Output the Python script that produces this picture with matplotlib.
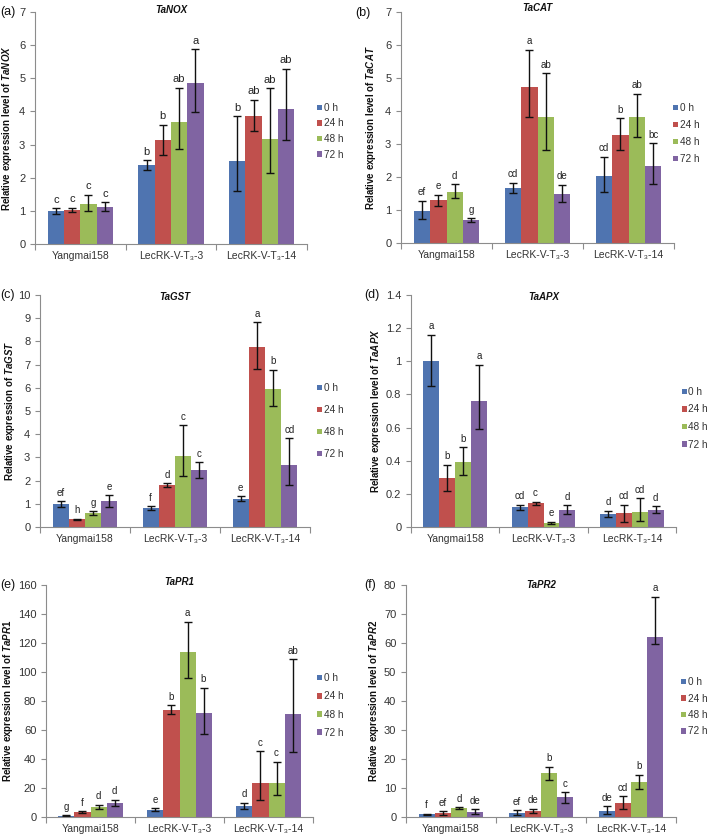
import matplotlib
matplotlib.use("Agg")
import matplotlib.pyplot as plt
from matplotlib.patches import Patch
import numpy as np

plt.rcParams['font.family'] = ['Liberation Sans', 'DejaVu Sans']
plt.rcParams['mathtext.fontset'] = 'custom'
plt.rcParams['mathtext.it'] = 'Liberation Sans:italic:bold'
plt.rcParams['mathtext.rm'] = 'Liberation Sans:bold'

# ---------------- data ----------------
times = ["0 h", "24 h", "48 h", "72 h"]
lines_std = ["Yangmai158", "LecRK-V-T\u2083-3", "LecRK-V-T\u2083-14"]
lines_apx = ["Yangmai158", "LecRK-V-T\u2083-3", "LecRK-T\u2083-14"]
colors = ["#4F74B0", "#C0504D", "#9BBB59", "#8064A2"]

# rows: lines (Yangmai158, T3-3, T3-14); columns: time points (0, 24, 48, 72 h)
nox_vals = [[1.00, 1.03, 1.22, 1.13], [2.37, 3.13, 3.68, 4.85], [2.50, 3.85, 3.17, 4.07]]
nox_up = [[0.08, 0.07, 0.27, 0.13], [0.16, 0.47, 1.04, 1.03], [1.35, 0.50, 1.53, 1.22]]
nox_dn = [[0.08, 0.07, 0.22, 0.13], [0.15, 0.44, 0.81, 0.87], [0.91, 0.44, 1.02, 0.94]]
nox_let = [["c", "c", "c", "c"], ["b", "b", "ab", "a"], ["b", "ab", "ab", "ab"]]

cat_vals = [[0.98, 1.29, 1.56, 0.70], [1.66, 4.73, 3.81, 1.47], [2.03, 3.28, 3.81, 2.34]]
cat_up = [[0.30, 0.17, 0.22, 0.05], [0.17, 1.13, 1.33, 0.29], [0.59, 0.50, 0.72, 0.68]]
cat_dn = [[0.24, 0.16, 0.21, 0.05], [0.15, 0.90, 0.99, 0.24], [0.47, 0.46, 0.61, 0.55]]
cat_let = [["ef", "e", "d", "g"], ["cd", "a", "ab", "de"], ["cd", "b", "ab", "bc"]]

gst_vals = [[1.00, 0.34, 0.60, 1.13], [0.80, 1.81, 3.08, 2.44], [1.21, 7.77, 5.96, 2.67]]
gst_up = [[0.12, 0.02, 0.09, 0.23], [0.10, 0.07, 1.30, 0.36], [0.11, 1.05, 0.81, 1.15]]
gst_dn = [[0.12, 0.02, 0.09, 0.25], [0.08, 0.07, 0.90, 0.33], [0.10, 0.96, 0.74, 0.86]]
gst_let = [["ef", "h", "g", "e"], ["f", "d", "c", "c"], ["e", "a", "b", "cd"]]

apx_vals = [[1.00, 0.295, 0.39, 0.76], [0.12, 0.143, 0.024, 0.105], [0.078, 0.084, 0.09, 0.104]]
apx_up = [[0.16, 0.08, 0.09, 0.22], [0.015, 0.01, 0.007, 0.026], [0.02, 0.051, 0.085, 0.02]]
apx_dn = [[0.15, 0.075, 0.075, 0.17], [0.015, 0.01, 0.007, 0.026], [0.02, 0.056, 0.056, 0.02]]
apx_let = [["a", "b", "b", "a"], ["cd", "c", "e", "d"], ["d", "cd", "cd", "d"]]

pr1_vals = [[0.9, 3.5, 6.9, 9.7], [5.1, 73.7, 113.5, 71.8], [7.6, 23.7, 23.7, 70.7]]
pr1_up = [[0.3, 0.5, 1.5, 2.3], [0.8, 3.2, 21.2, 17.5], [2.3, 21.6, 14.5, 38.2]]
pr1_dn = [[0.3, 0.5, 1.5, 2.3], [0.8, 3.0, 17.5, 14.5], [1.8, 11.7, 8.7, 25.8]]
pr1_let = [["g", "f", "d", "d"], ["e", "b", "a", "b"], ["d", "c", "c", "ab"]]

pr2_vals = [[0.92, 1.4, 3.1, 1.85], [1.5, 2.0, 15.1, 6.8], [2.2, 4.95, 12.2, 61.9]]
pr2_up = [[0.15, 0.6, 0.3, 0.75], [0.75, 0.9, 2.2, 1.8], [1.5, 2.3, 2.4, 14.0]]
pr2_dn = [[0.15, 0.7, 0.3, 0.75], [0.75, 0.6, 2.2, 2.0], [1.05, 2.05, 2.4, 2.4]]
pr2_let = [["f", "ef", "d", "de"], ["ef", "de", "b", "c"], ["de", "cd", "b", "a"]]

W, H = 709, 835
fig = plt.figure(figsize=(W / 100, H / 100), dpi=100)


def rect(l, t, r, b):
    return [l / W, 1 - b / H, (r - l) / W, (b - t) / H]


panels = [
    dict(tag="(a)", gene="TaNOX", vals=nox_vals, up=nox_up, dn=nox_dn, let=nox_let,
         cats=lines_std, ylab="Relative expression level of ", box=(35, 12, 307, 244),
         ymax=7, ystep=1, tagpos=(0, 12), lab_x=7, title_y=10, leg=(317, 108, 15.5), letfs=8),
    dict(tag="(b)", gene="TaCAT", vals=cat_vals, up=cat_up, dn=cat_dn, let=cat_let,
         cats=lines_std, ylab="Relative expression level of ", box=(401, 12, 674, 243),
         ymax=7, ystep=1, tagpos=(355, 13), lab_x=371, title_y=8, leg=(673, 108, 17), letfs=7),
    dict(tag="(c)", gene="TaGST", vals=gst_vals, up=gst_up, dn=gst_dn, let=gst_let,
         cats=lines_std, ylab="Relative expression of ", box=(40, 295, 310, 527),
         ymax=10, ystep=1, tagpos=(0, 295), lab_x=10, title_y=297, leg=(317, 388, 22), letfs=7),
    dict(tag="(d)", gene="TaAPX", vals=apx_vals, up=apx_up, dn=apx_dn, let=apx_let,
         cats=lines_apx, ylab="Relative expression level of ", box=(411, 295, 676, 527),
         ymax=1.4, ystep=0.2, tagpos=(364, 295), lab_x=376, title_y=297, leg=(682, 392, 17.5), letfs=7),
    dict(tag="(e)", gene="TaPR1", vals=pr1_vals, up=pr1_up, dn=pr1_dn, let=pr1_let,
         cats=lines_std, ylab="Relative expression level of ", box=(46, 585, 313, 817),
         ymax=160, ystep=20, tagpos=(0, 585), lab_x=8, title_y=582, leg=(317, 678, 18.3), letfs=7),
    dict(tag="(f)", gene="TaPR2", vals=pr2_vals, up=pr2_up, dn=pr2_dn, let=pr2_let,
         cats=lines_std, ylab="Relative expression level of ", box=(406, 585, 676, 817),
         ymax=80, ystep=10, tagpos=(364, 585), lab_x=374, title_y=585, leg=(681, 682, 16.5), letfs=7),
]

bw = 0.18
spine_col = "#8C8C8C"
txt_col = "#333333"
leg_fs = 7.2
leg_fs_px = leg_fs * 100 / 72

for p in panels:
    l, t, r, b = p["box"]
    ax = fig.add_axes(rect(l, t, r, b))
    vals = np.array(p["vals"])
    up = np.array(p["up"])
    dn = np.array(p["dn"])
    x = np.arange(len(p["cats"]))
    for j in range(len(times)):
        xs = x + (j - 1.5) * bw
        ax.bar(xs, vals[:, j], width=bw, color=colors[j], edgecolor="none", label=times[j])
        ax.errorbar(xs, vals[:, j], yerr=[dn[:, j], up[:, j]], fmt="none", ecolor="#111111",
                    elinewidth=1.0, capsize=2.8, capthick=1.0)
        for i in range(len(x)):
            ax.annotate(p["let"][i][j], (xs[i], vals[i, j] + up[i, j]), xytext=(0, 2.5),
                        textcoords="offset points", ha="center", va="bottom",
                        fontsize=p["letfs"], color="#222222")
    ax.set_xlim(-0.5, len(x) - 0.5)
    ax.set_ylim(0, p["ymax"])
    yt = np.round(np.arange(0, p["ymax"] + p["ystep"] / 2, p["ystep"]), 2)
    ax.set_yticks(yt)
    ax.set_yticklabels([("%g" % v) for v in yt])
    ax.set_xticks(x)
    ax.set_xticklabels(p["cats"])
    ax.set_xticks(np.arange(-0.5, len(x)), minor=True)
    ax.tick_params(axis="x", which="major", length=0, pad=5, labelsize=7.5, labelcolor=txt_col)
    ax.tick_params(axis="x", which="minor", length=4, direction="out", color=spine_col, width=0.8)
    ax.tick_params(axis="y", length=3.5, direction="out", color=spine_col, width=0.8,
                   labelsize=8, labelcolor=txt_col, pad=3.5)
    for s in ["top", "right"]:
        ax.spines[s].set_visible(False)
    for s in ["left", "bottom"]:
        ax.spines[s].set_color(spine_col)
        ax.spines[s].set_linewidth(0.8)
    ax.set_ylabel(p["ylab"] + r"$\mathit{" + p["gene"] + "}$", fontsize=7, fontweight="bold",
                  color="#111111")
    ax.yaxis.set_label_coords((p["lab_x"] - l) / (r - l), 0.5)
    ax.yaxis.label.set_verticalalignment("center")
    ax.text(0.5, (b - p["title_y"]) / (b - t), p["gene"], transform=ax.transAxes, ha="center",
            va="center", fontsize=7, fontweight="bold", fontstyle="italic", color="#111111")
    fig.text(p["tagpos"][0] / W, 1 - p["tagpos"][1] / H, p["tag"], ha="left", va="center",
             fontsize=9, color="#111111")
    lx, ly, sp = p["leg"]
    handles = [Patch(facecolor=c, edgecolor="none") for c in colors]
    fig.legend(handles, times, loc="upper left",
               bbox_to_anchor=(lx / W, 1 - (ly - leg_fs_px / 2) / H),
               bbox_transform=fig.transFigure, frameon=False, borderpad=0, borderaxespad=0,
               labelspacing=sp / leg_fs_px - 1, handlelength=0.5, handleheight=0.5,
               handletextpad=0.15, fontsize=leg_fs, labelcolor=txt_col)

fig.savefig("out.png", dpi=100)
